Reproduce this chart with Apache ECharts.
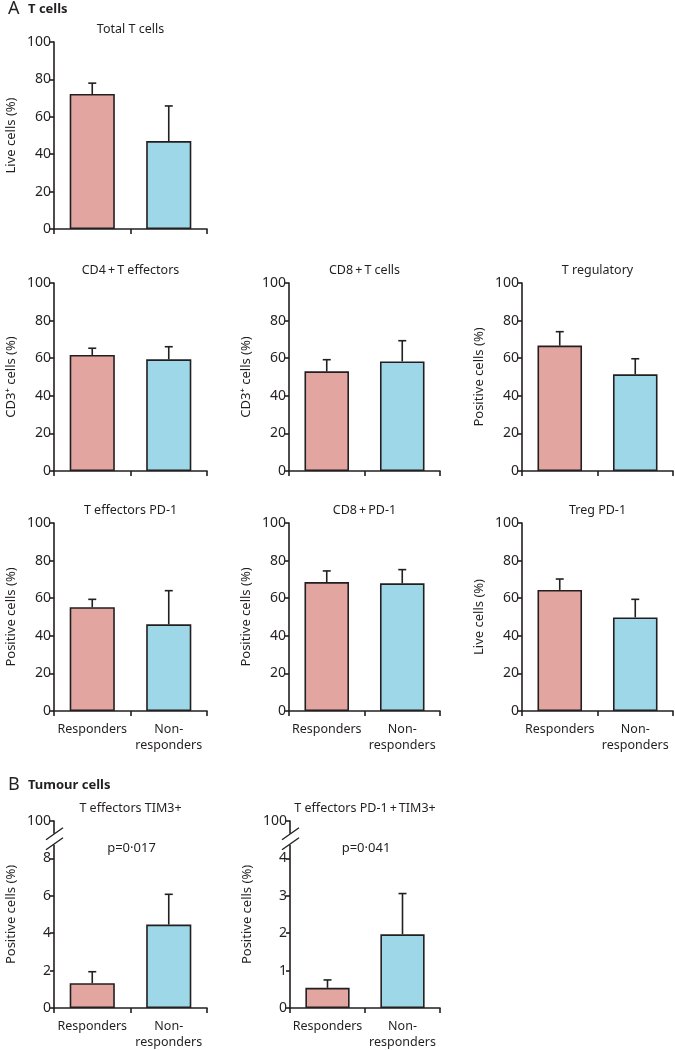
<!DOCTYPE html>
<html>
<head>
<meta charset="utf-8">
<script src="https://cdn.jsdelivr.net/npm/echarts@6/dist/echarts.min.js"></script>
<style>
  html, body { margin: 0; padding: 0; background: #fff; }
  #chart { width: 675px; height: 1050px; }
</style>
</head>
<body>
<div id="chart"></div>
<script>
// data
const groups = ['Responders', 'Non-\nresponders'];
const panelTitles = ['Total T cells', 'CD4\u2009+\u2009T effectors', 'CD8\u2009+\u2009T cells', 'T regulatory',
  'T effectors PD-1', 'CD8\u2009+\u2009PD-1', 'Treg PD-1', 'T effectors TIM3+', 'T effectors PD-1\u2009+\u2009TIM3+'];
const yNames = ['Live cells (%)', 'CD3\u207a cells (%)', 'CD3\u207a cells (%)', 'Positive cells (%)',
  'Positive cells (%)', 'Positive cells (%)', 'Live cells (%)', 'Positive cells (%)', 'Positive cells (%)'];
const respMean = [72.2, 61.7, 53.0, 66.7, 55.2, 68.6, 64.4, 1.33, 0.54];
const respErr = [5.8, 3.6, 6.2, 7.4, 4.2, 5.9, 5.8, 0.61, 0.21];
const nonMean = [47.0, 59.4, 58.3, 51.4, 46.1, 67.9, 49.8, 4.46, 1.97];
const nonErr = [18.8, 6.7, 11.0, 8.3, 17.9, 7.3, 9.6, 1.62, 1.09];
const pValues = ['', '', '', '', '', '', '', 'p=0\u00b7017', 'p=0\u00b7041'];
// y ticks: standard panels 0-100, tumour panels have a broken axis (top tick = 100)
const yTicksStd = ['0', '20', '40', '60', '80', '100'];
const yTicksTim3 = ['0', '2', '4', '6', '8', '100'];
const yTicksPdTim3 = ['0', '1', '2', '3', '4', '100'];

const ink = '#231f20';
const pink = '#e2a59f';
const blue = '#9ed7e8';
const font = 'Noto Sans';

// panel layout: left, top, width, height
const cells = [
  [54, 42, 153, 187],
  [54, 283, 153, 188], [289, 283, 151, 188], [522, 283, 151, 188],
  [54, 523, 153, 188], [289, 523, 151, 188], [522, 523, 151, 188],
  [54, 821, 153, 187], [290, 821, 150, 187]
];
const yScale = [
  { max: 100, interval: 20, labels: yTicksStd },
  { max: 100, interval: 20, labels: yTicksStd },
  { max: 100, interval: 20, labels: yTicksStd },
  { max: 100, interval: 20, labels: yTicksStd },
  { max: 100, interval: 20, labels: yTicksStd },
  { max: 100, interval: 20, labels: yTicksStd },
  { max: 100, interval: 20, labels: yTicksStd },
  { max: 10, interval: 2, labels: yTicksTim3, broken: true },
  { max: 5, interval: 1, labels: yTicksPdTim3, broken: true }
];

function renderErr(params, api) {
  const base = api.coord([api.value(0), api.value(1)]);
  const top = api.coord([api.value(0), api.value(2)]);
  return {
    type: 'group',
    children: [
      { type: 'line', shape: { x1: base[0], y1: base[1], x2: top[0], y2: top[1] }, style: { stroke: ink, lineWidth: 1.6 } },
      { type: 'line', shape: { x1: top[0] - 4, y1: top[1], x2: top[0] + 4, y2: top[1] }, style: { stroke: ink, lineWidth: 1.6 } }
    ]
  };
}

function renderBreak(params, api) {
  const x = params.coordSys.x;
  const yc = api.coord([0, api.value(1)])[1];
  return {
    type: 'group',
    children: [
      { type: 'rect', shape: { x: x - 3, y: yc - 6, width: 6, height: 11 }, style: { fill: '#fff' } },
      { type: 'line', shape: { x1: x - 8, y1: yc, x2: x + 9, y2: yc - 12 }, style: { stroke: ink, lineWidth: 1.4 } },
      { type: 'line', shape: { x1: x - 8, y1: yc + 10, x2: x + 9, y2: yc - 2 }, style: { stroke: ink, lineWidth: 1.4 } }
    ]
  };
}

const grid = [], xAxis = [], yAxis = [], series = [], graphic = [];

cells.forEach(function (c, i) {
  const sc = yScale[i];
  grid.push({ left: c[0], top: c[1], width: c[2], height: c[3], outerBoundsMode: 'none' });
  xAxis.push({
    type: 'category',
    gridIndex: i,
    data: groups,
    axisLine: { lineStyle: { color: ink, width: 1.6 } },
    axisTick: { show: true, length: 5, lineStyle: { color: ink, width: 1.6 } },
    axisLabel: { show: i >= 4, color: ink, fontFamily: font, fontSize: 12.5, lineHeight: 16, margin: 10, interval: 0 }
  });
  yAxis.push({
    type: 'value',
    gridIndex: i,
    min: 0,
    max: sc.max,
    interval: sc.interval,
    name: yNames[i],
    nameLocation: 'middle',
    nameRotate: 90,
    nameGap: 36,
    nameTextStyle: { color: ink, fontFamily: font, fontSize: 13 },
    splitLine: { show: false },
    axisLine: { show: true, lineStyle: { color: ink, width: 1.6 } },
    axisTick: { show: true, length: 4, lineStyle: { color: ink, width: 1.6 } },
    axisLabel: {
      color: ink, fontFamily: font, fontSize: 14, margin: 3,
      formatter: function (v) { return sc.labels[Math.round(v / sc.interval)]; }
    }
  });
  series.push({
    type: 'bar',
    xAxisIndex: i,
    yAxisIndex: i,
    barWidth: '59%',
    data: [
      { value: respMean[i], itemStyle: { color: pink } },
      { value: nonMean[i], itemStyle: { color: blue } }
    ],
    itemStyle: { borderColor: ink, borderWidth: 1.6 },
    silent: true
  });
  series.push({
    type: 'custom',
    xAxisIndex: i,
    yAxisIndex: i,
    renderItem: renderErr,
    z: 3,
    data: [
      [0, respMean[i], respMean[i] + respErr[i]],
      [1, nonMean[i], nonMean[i] + nonErr[i]]
    ],
    silent: true
  });
  if (sc.broken) {
    series.push({
      type: 'custom',
      xAxisIndex: i,
      yAxisIndex: i,
      renderItem: renderBreak,
      z: 4,
      clip: false,
      data: [[0, sc.max - sc.interval / 2]],
      silent: true
    });
  }
  graphic.push({
    type: 'text',
    x: c[0] + c[2] / 2,
    y: c[1] - 13,
    style: { text: panelTitles[i], fill: ink, font: '12.5px "' + font + '"', align: 'center', verticalAlign: 'middle' }
  });
  if (pValues[i]) {
    graphic.push({
      type: 'text',
      x: c[0] + c[2] / 2 + 1,
      y: c[1] + 27,
      style: { text: pValues[i], fill: ink, font: '13px "' + font + '"', align: 'center', verticalAlign: 'middle' }
    });
  }
});

// section headers
graphic.push(
  { type: 'text', x: 8, y: 9, style: { text: 'A', fill: ink, font: '18px "' + font + '"', verticalAlign: 'middle' } },
  { type: 'text', x: 28, y: 9, style: { text: 'T cells', fill: ink, font: 'bold 13px "' + font + '"', verticalAlign: 'middle' } },
  { type: 'text', x: 8, y: 785, style: { text: 'B', fill: ink, font: '18px "' + font + '"', verticalAlign: 'middle' } },
  { type: 'text', x: 28, y: 785, style: { text: 'Tumour cells', fill: ink, font: 'bold 13px "' + font + '"', verticalAlign: 'middle' } }
);

const chart = echarts.init(document.getElementById('chart'));
chart.setOption({
  animation: false,
  backgroundColor: '#fff',
  grid: grid,
  xAxis: xAxis,
  yAxis: yAxis,
  series: series,
  graphic: graphic
});
</script>
</body>
</html>
